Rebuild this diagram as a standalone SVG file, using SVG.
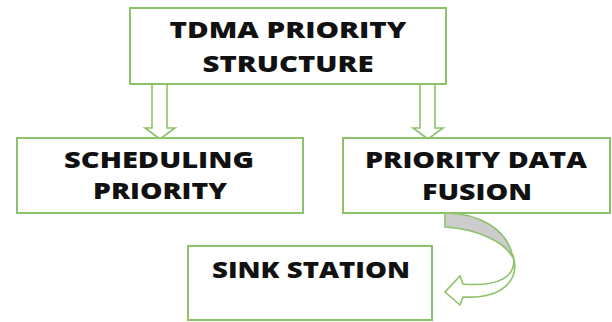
<svg xmlns="http://www.w3.org/2000/svg" width="612" height="322" viewBox="0 0 612 322">
<style>
.box{fill:#fff;stroke:#8cc26a;stroke-width:2}
.arr{fill:#fff;stroke:#8cc26a;stroke-width:1.6;stroke-linejoin:miter}
.lbl{font-family:"Open Sans","Liberation Sans",sans-serif;font-weight:800;font-size:23.5px;fill:#111;text-anchor:middle}
</style>
<rect width="612" height="322" fill="#fff"/>
<g id="connectors">
<path class="arr" d="M152,84 L152,128 L145,128 L160,139 L175,128 L167,128 L167,84 Z"/>
<path class="arr" d="M420,84 L420,128 L413,128 L428,139 L443,128 L435,128 L435,84 Z"/>
<path d="M445,213 C477,213 508,228 513,258 C505,242 478,229 445,227 Z" fill="#cccccc" stroke="#8cc26a" stroke-width="1.6"/>
<path class="arr" d="M513,255 C518,277 498,287 463,284 L460,276 L445,292 L460,305 L463,297 C500,299 521,282 513,255 Z"/>
</g>
<g id="tdma">
<rect class="box" x="130" y="8" width="316" height="76"/>
<text class="lbl" x="288" y="38" font-size="24.5" textLength="237" lengthAdjust="spacingAndGlyphs">TDMA PRIORITY</text>
<text class="lbl" x="288" y="72" font-size="24.5" textLength="171" lengthAdjust="spacingAndGlyphs">STRUCTURE</text>
</g>
<g id="scheduling">
<rect class="box" x="17" y="138" width="286" height="75"/>
<text class="lbl" x="159" y="168" textLength="190" lengthAdjust="spacingAndGlyphs">SCHEDULING</text>
<text class="lbl" x="160" y="199" textLength="134" lengthAdjust="spacingAndGlyphs">PRIORITY</text>
</g>
<g id="fusion">
<rect class="box" x="343" y="138" width="267" height="75"/>
<text class="lbl" x="476" y="168" textLength="222" lengthAdjust="spacingAndGlyphs">PRIORITY DATA</text>
<text class="lbl" x="477" y="200" textLength="110" lengthAdjust="spacingAndGlyphs">FUSION</text>
</g>
<g id="sink">
<rect class="box" x="188" y="246" width="244" height="74"/>
<text class="lbl" x="311" y="278" textLength="198" lengthAdjust="spacingAndGlyphs">SINK STATION</text>
</g>
</svg>
